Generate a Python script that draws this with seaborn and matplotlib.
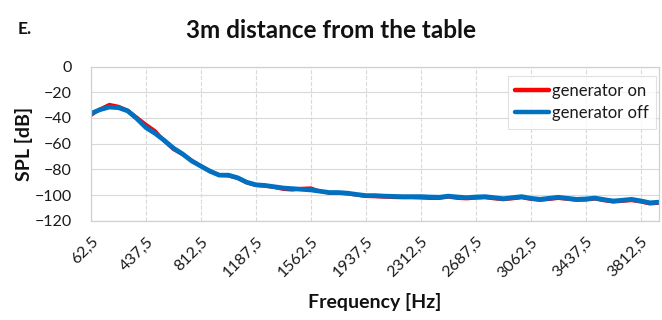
import matplotlib
matplotlib.use("Agg")
import matplotlib.pyplot as plt
import seaborn as sns
import pandas as pd
import numpy as np

sns.set_style("white")
plt.rcParams['font.family'] = ['Lato', 'DejaVu Sans']

# frequency bins (Hz), 62.5 Hz steps
freq = [62.5 + 62.5 * i for i in range(63)]

# SPL [dB], generator off
spl_off = [-36.5, -33.5, -31.5, -32.0, -34.5, -40.5, -47.5, -52.0, -57.5, -63.5,
           -68.0, -73.5, -77.5, -81.5, -84.5, -84.5, -86.5, -90.0, -92.0, -92.5,
           -93.5, -94.5, -95.0, -95.5, -96.0, -97.0, -98.0, -98.0, -98.5, -99.5,
           -100.4, -100.4, -100.8, -101.0, -101.2, -101.2, -101.2, -101.5, -101.7, -100.8,
           -101.5, -102.0, -101.5, -101.2, -102.0, -102.8, -102.0, -101.2, -102.5, -103.3,
           -102.5, -101.7, -102.5, -103.3, -103.0, -102.3, -103.5, -104.6, -104.0, -103.3,
           -104.5, -106.0, -105.5]

# SPL [dB], generator on
spl_on = [-38.0, -33.0, -29.5, -31.0, -34.0, -39.5, -45.0, -50.0, -58.0, -64.5,
          -68.5, -73.0, -77.5, -81.0, -84.5, -85.0, -87.0, -90.5, -92.5, -93.0,
          -94.0, -95.5, -96.0, -94.8, -94.5, -97.0, -98.5, -98.5, -99.0, -100.0,
          -101.0, -101.2, -101.5, -101.8, -102.0, -102.0, -102.2, -102.5, -102.5, -101.5,
          -102.5, -102.8, -102.3, -102.0, -102.8, -103.5, -102.8, -102.0, -103.2, -104.0,
          -103.3, -102.5, -103.2, -104.0, -103.8, -103.0, -104.3, -105.3, -104.8, -104.2,
          -105.3, -106.8, -106.3]

tick_freq = [62.5 + 375 * k for k in range(11)]
tick_labels = [f"{f:.1f}".replace(".", ",") for f in tick_freq]

df = pd.DataFrame({
    "Frequency": freq * 2,
    "SPL": spl_on + spl_off,
    "series": ["generator on"] * len(freq) + ["generator off"] * len(freq),
})

fig = plt.figure(figsize=(6.62, 3.2), dpi=100)
ax = fig.add_axes([0.1375, 0.31, 0.858, 0.482])

sns.lineplot(ax=ax, data=df[df.series == "generator on"], x="Frequency", y="SPL",
             color="#FF0000", linewidth=2.4, label="generator on")
sns.lineplot(ax=ax, data=df[df.series == "generator off"], x="Frequency", y="SPL",
             color="#0070C0", linewidth=3.4, label="generator off")

ax.set_xlim(freq[0], freq[-1])
ax.set_ylim(-120, 0)
ax.set_yticks(np.arange(-120, 1, 20))
ax.set_xticks(tick_freq)
ax.set_xticklabels(tick_labels, rotation=45, ha="right", rotation_mode="anchor")

ax.grid(axis="y", color="#d9d9d9", linewidth=0.8, linestyle="-")
ax.grid(axis="x", color="#d9d9d9", linewidth=0.8, linestyle="--")
ax.set_axisbelow(True)
for s in ax.spines.values():
    s.set_color("#d0d0d0")
    s.set_linewidth(0.9)

ax.tick_params(axis="both", labelsize=11.5, length=0, colors="#1a1a1a")
ax.tick_params(axis="y", pad=14)
ax.tick_params(axis="x", pad=10)

ax.set_xlabel("Frequency [Hz]", fontsize=14, fontweight="bold", labelpad=9,
              color="#111111")
ax.set_ylabel("SPL [dB]", fontsize=14, fontweight="bold", labelpad=1,
              color="#111111")

leg = ax.legend(loc="upper right", fontsize=12, frameon=True, fancybox=False,
                edgecolor="#d9d9d9", handlelength=2.0, borderpad=0.45,
                labelspacing=0.35, handletextpad=0.2, borderaxespad=0,
                bbox_to_anchor=(0.995, 0.94))
leg.get_frame().set_linewidth(0.8)
for line in leg.get_lines():
    line.set_linewidth(3.2)
for t in leg.get_texts():
    t.set_color("#1a1a1a")

fig.text(0.5, 0.905, "3m distance from the table", ha="center", va="center",
         fontsize=17.5, fontweight="bold", color="#111111")
fig.text(0.026, 0.91, "E.", ha="left", va="center", fontsize=12.5, fontweight="bold",
         color="#111111")

fig.savefig("out.png", dpi=100)
